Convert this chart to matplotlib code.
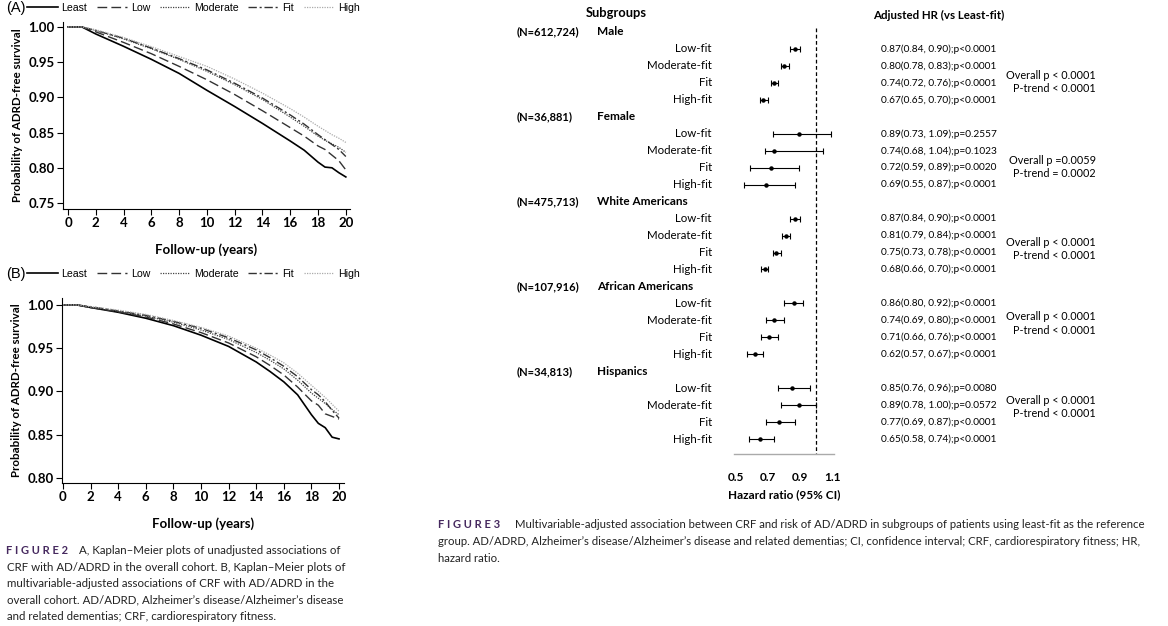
import numpy as np
import matplotlib
matplotlib.use('Agg')
import matplotlib.pyplot as plt
from matplotlib.lines import Line2D
from matplotlib import transforms

W, H = 1168, 626

# Kaplan-Meier curves, panel A (unadjusted)
t_a = [0, 1, 2, 4, 6, 8, 10, 12, 14, 16, 17, 18, 18.5, 19, 19.5, 20]
least_a = [1, 1, 0.990, 0.9725, 0.954, 0.934, 0.910, 0.887, 0.863, 0.838, 0.825, 0.808, 0.801, 0.800, 0.793, 0.787]
low_a = [1, 1, 0.993, 0.978, 0.962, 0.944, 0.925, 0.904, 0.881, 0.857, 0.845, 0.831, 0.826, 0.818, 0.810, 0.797]
moderate_a = [1, 1, 0.995, 0.983, 0.969, 0.954, 0.937, 0.918, 0.897, 0.872, 0.859, 0.845, 0.839, 0.834, 0.829, 0.822]
fit_a = [1, 1, 0.995, 0.984, 0.970, 0.955, 0.939, 0.920, 0.899, 0.875, 0.862, 0.847, 0.840, 0.833, 0.826, 0.816]
high_a = [1, 1, 0.996, 0.985, 0.972, 0.958, 0.944, 0.926, 0.906, 0.884, 0.872, 0.859, 0.853, 0.847, 0.842, 0.836]

# panel B (multivariable-adjusted)
t_b = [0, 1, 2, 4, 6, 8, 10, 12, 14, 15, 16, 17, 18, 18.5, 19, 19.5, 20]
least_b = [1, 1, 0.997, 0.9915, 0.9846, 0.976, 0.965, 0.952, 0.934, 0.923, 0.911, 0.896, 0.873, 0.863, 0.858, 0.847, 0.845]
low_b = [1, 1, 0.997, 0.992, 0.986, 0.978, 0.968, 0.956, 0.940, 0.930, 0.919, 0.905, 0.889, 0.884, 0.874, 0.871, 0.868]
moderate_b = [1, 1, 0.997, 0.993, 0.987, 0.980, 0.971, 0.960, 0.945, 0.936, 0.926, 0.913, 0.898, 0.892, 0.886, 0.879, 0.873]
fit_b = [1, 1, 0.998, 0.993, 0.988, 0.981, 0.973, 0.962, 0.948, 0.939, 0.929, 0.917, 0.902, 0.896, 0.888, 0.878, 0.869]
high_b = [1, 1, 0.998, 0.994, 0.989, 0.982, 0.974, 0.964, 0.950, 0.942, 0.933, 0.921, 0.907, 0.900, 0.893, 0.885, 0.877]

km_labels = ['Least', 'Low', 'Moderate', 'Fit', 'High']

# forest plot data
groups = ['Male', 'Female', 'White Americans', 'African Americans', 'Hispanics']
group_n = ['(N=612,724)', '(N=36,881)', '(N=475,713)', '(N=107,916)', '(N=34,813)']
levels = ['Low-fit', 'Moderate-fit', 'Fit', 'High-fit']
hr = [[0.87, 0.80, 0.74, 0.67],
      [0.89, 0.74, 0.72, 0.69],
      [0.87, 0.81, 0.75, 0.68],
      [0.86, 0.74, 0.71, 0.62],
      [0.85, 0.89, 0.77, 0.65]]
hr_lo = [[0.84, 0.78, 0.72, 0.65],
         [0.73, 0.68, 0.59, 0.55],
         [0.84, 0.79, 0.73, 0.66],
         [0.80, 0.69, 0.66, 0.57],
         [0.76, 0.78, 0.69, 0.58]]
hr_hi = [[0.90, 0.83, 0.76, 0.70],
         [1.09, 1.04, 0.89, 0.87],
         [0.90, 0.84, 0.78, 0.70],
         [0.92, 0.80, 0.76, 0.67],
         [0.96, 1.00, 0.87, 0.74]]
pvals = [['p<0.0001', 'p<0.0001', 'p<0.0001', 'p<0.0001'],
         ['p=0.2557', 'p=0.1023', 'p=0.0020', 'p<0.0001'],
         ['p<0.0001', 'p<0.0001', 'p<0.0001', 'p<0.0001'],
         ['p<0.0001', 'p<0.0001', 'p<0.0001', 'p<0.0001'],
         ['p=0.0080', 'p=0.0572', 'p<0.0001', 'p<0.0001']]
overall_p = ['Overall p < 0.0001', 'Overall p =0.0059', 'Overall p < 0.0001',
             'Overall p < 0.0001', 'Overall p < 0.0001']
p_trend = ['P-trend < 0.0001', 'P-trend = 0.0002', 'P-trend < 0.0001',
           'P-trend < 0.0001', 'P-trend < 0.0001']
hr_ticks = [0.5, 0.7, 0.9, 1.1]

# where the "Overall p" block sits, in rows below each group header
overall_offset = [2.59, 2.55, 2.38, 1.8, 1.7]

SANS = ['Lato', 'DejaVu Sans']
ARIAL = ['Liberation Sans', 'DejaVu Sans']
PURPLE = '#46295f'

styles = [dict(color='black', lw=1.2, ls='-'),
          dict(color='#333333', lw=1.0, ls=(0, (7, 3))),
          dict(color='#444444', lw=0.9, ls=(0, (1, 1))),
          dict(color='#333333', lw=1.0, ls=(0, (6, 2, 1.5, 2))),
          dict(color='#aaaaaa', lw=0.9, ls=(0, (1, 1)))]

fig = plt.figure(figsize=(W / 100, H / 100), dpi=100)
fig.patch.set_facecolor('white')


def add_px_axes(left, top, right, bottom):
    return fig.add_axes([left / W, 1 - bottom / H, (right - left) / W, (bottom - top) / H])


def km_panel(ax, t, curves, ylim, yticks, letter, legend_y):
    for vals, st in zip(curves, styles):
        ax.plot(t, vals, **st)
    ax.set_xlim(-0.36, 20.3)
    ax.set_ylim(*ylim)
    ax.set_xticks(range(0, 21, 2))
    ax.set_yticks(yticks)
    ax.set_yticklabels(['%.2f' % v for v in yticks])
    for s in ['top', 'right']:
        ax.spines[s].set_visible(False)
    for s in ['left', 'bottom']:
        ax.spines[s].set_linewidth(0.8)
    ax.tick_params(length=4, width=0.8, pad=2, labelsize=9.5)
    for lab in ax.get_xticklabels() + ax.get_yticklabels():
        lab.set_fontweight('bold')
        lab.set_family(SANS)
    ax.set_ylabel('Probability of ADRD-free survival', fontsize=8.3,
                  fontweight='bold', family=SANS, labelpad=4)
    ax.set_xlabel('Follow-up (years)', fontsize=9.5, fontweight='bold',
                  family=SANS, labelpad=10)
    fig.text(6 / W, 1 - legend_y / H, '(%s)' % letter, fontsize=10.5,
             family=ARIAL, va='center', ha='left')
    handles = [Line2D([], [], **st) for st in styles]
    fig.legend(handles, km_labels, loc='center left', ncol=5, frameon=False,
               bbox_to_anchor=(27 / W, 1 - legend_y / H), borderaxespad=0,
               borderpad=0, handlelength=2.9, handletextpad=0.35,
               columnspacing=0.9, prop=dict(family=ARIAL, size=7.6))


axA = add_px_axes(63, 22, 350, 209)
km_panel(axA, t_a, [least_a, low_a, moderate_a, fit_a, high_a],
         (0.7415, 1.007), [0.75, 0.80, 0.85, 0.90, 0.95, 1.00], 'A', 8)

axB = add_px_axes(62, 298, 344, 483)
km_panel(axB, t_b, [least_b, low_b, moderate_b, fit_b, high_b],
         (0.794, 1.008), [0.80, 0.85, 0.90, 0.95, 1.00], 'B', 274)
axB.set_xlim(-0.07, 20.36)

# forest plot
axF = add_px_axes(734, 23.5, 834, 454.4)
n_rows = len(groups) * (len(levels) + 1)
axF.set_ylim(n_rows - 0.1, -0.5)
axF.set_xlim(0.49, 1.11)
for s in ['top', 'right', 'left']:
    axF.spines[s].set_visible(False)
axF.spines['bottom'].set_color('#aaaaaa')
axF.spines['bottom'].set_linewidth(1.0)
axF.set_yticks([])
axF.set_xticks(hr_ticks)
axF.set_xticklabels(['%.1f' % v for v in hr_ticks])
axF.tick_params(axis='x', length=0, pad=13, labelsize=8.5)
for lab in axF.get_xticklabels():
    lab.set_fontweight('bold')
    lab.set_family(SANS)
axF.set_xlabel('Hazard ratio (95% CI)', fontsize=8.5, fontweight='bold',
               family=SANS, labelpad=4)
axF.vlines(1.0, -0.25, n_rows - 0.1, colors='black', linestyles=(0, (3, 2)), lw=0.9)

tr = transforms.blended_transform_factory(fig.transFigure, axF.transData)
row = 0
for g in range(len(groups)):
    head = row
    fig.text(517 / W, row, group_n[g], transform=tr, fontsize=8, fontweight='bold',
             family=SANS, va='center', ha='left')
    fig.text(597 / W, row, groups[g], transform=tr, fontsize=8.5, fontweight='bold',
             family=SANS, va='center', ha='left')
    for k in range(len(levels)):
        row += 1
        axF.errorbar(hr[g][k], row,
                     xerr=[[hr[g][k] - hr_lo[g][k]], [hr_hi[g][k] - hr[g][k]]],
                     fmt='o', ms=2.2, color='black', ecolor='black',
                     elinewidth=0.8, capsize=2.2, capthick=0.8)
        fig.text(712 / W, row, levels[k], transform=tr, fontsize=8.3,
                 family=SANS, va='center', ha='right')
        fig.text(881 / W, row, '%.2f(%.2f, %.2f);%s' % (hr[g][k], hr_lo[g][k], hr_hi[g][k], pvals[g][k]),
                 transform=tr, fontsize=7.3, family=SANS, va='center', ha='left')
    y0 = head + overall_offset[g]
    fig.text(1096 / W, y0, overall_p[g], transform=tr, fontsize=7.8,
             family=SANS, va='center', ha='right')
    fig.text(1096 / W, y0 + 0.77, p_trend[g], transform=tr, fontsize=7.8,
             family=SANS, va='center', ha='right')
    row += 1

fig.text(616 / W, 1 - 13 / H, 'Subgroups', fontsize=9.3, fontweight='bold',
         family=SANS, va='center', ha='center')
fig.text(873 / W, 1 - 15 / H, 'Adjusted HR (vs Least-fit)', fontsize=8.3,
         fontweight='bold', family=SANS, va='center', ha='left')

# captions
cap2 = ['A, Kaplan–Meier plots of unadjusted associations of',
        'CRF with AD/ADRD in the overall cohort. B, Kaplan–Meier plots of',
        'multivariable-adjusted associations of CRF with AD/ADRD in the',
        'overall cohort. AD/ADRD, Alzheimer’s disease/Alzheimer’s disease',
        'and related dementias; CRF, cardiorespiratory fitness.']
fig.text(6 / W, 1 - 551 / H, 'F I G U R E 2', fontsize=8, fontweight='bold',
         color=PURPLE, family=SANS, va='center', ha='left')
for i, line in enumerate(cap2):
    x0 = 79 if i == 0 else 7
    fig.text(x0 / W, 1 - (551 + 16.3 * i) / H, line, fontsize=8.3,
             family=SANS, va='center', ha='left', color='#222222')

cap3 = ['Multivariable-adjusted association between CRF and risk of AD/ADRD in subgroups of patients using least-fit as the reference',
        'group. AD/ADRD, Alzheimer’s disease/Alzheimer’s disease and related dementias; CI, confidence interval; CRF, cardiorespiratory fitness; HR,',
        'hazard ratio.']
fig.text(438 / W, 1 - 525 / H, 'F I G U R E 3', fontsize=8, fontweight='bold',
         color=PURPLE, family=SANS, va='center', ha='left')
for i, line in enumerate(cap3):
    x0 = 515 if i == 0 else 438
    fig.text(x0 / W, 1 - (525 + 16.5 * i) / H, line, fontsize=8.2,
             family=SANS, va='center', ha='left', color='#222222')

fig.savefig('out.png', dpi=100)
